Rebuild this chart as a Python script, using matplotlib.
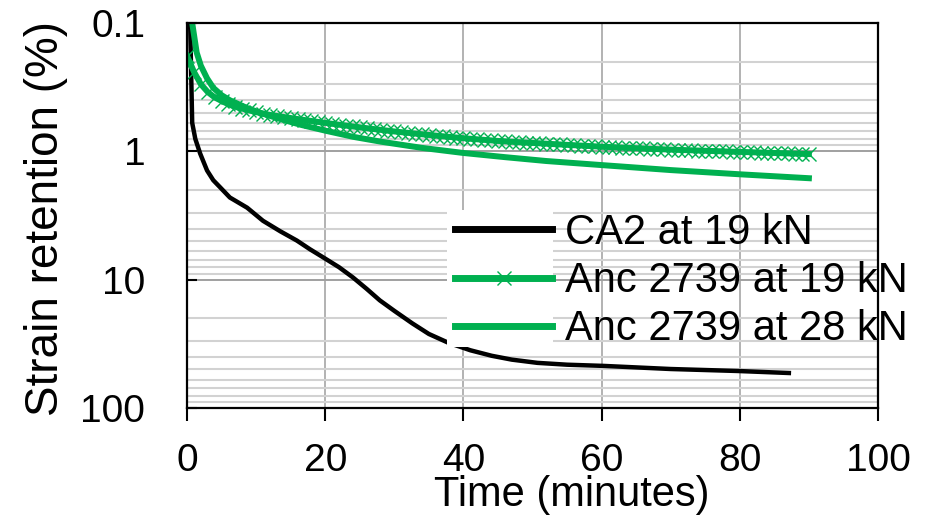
import numpy as np
import matplotlib
matplotlib.use("Agg")
import matplotlib.pyplot as plt
from matplotlib.ticker import LogLocator, FixedLocator, FixedFormatter, NullFormatter
from matplotlib.patches import Rectangle

plt.rcParams['font.family'] = ['Liberation Sans', 'DejaVu Sans']

# CA2 at 19 kN (black)
ca2_time = [0.45, 0.75, 1.2, 1.9, 2.9, 3.8, 4.8, 6.2, 8.7, 11.0, 13.5, 15.9, 17.8, 19.7,
            22.0, 24.0, 26.0, 27.9, 30.0, 32.6, 35.0, 37.8, 41.0, 44.1, 47.0, 50.7,
            55.0, 60.3, 70.0, 79.7, 87.1]
ca2_strain = [0.1, 0.6, 0.8, 1.04, 1.41, 1.68, 1.91, 2.29, 2.75, 3.48, 4.2, 4.96, 5.8, 6.7,
              8.0, 9.6, 11.8, 14.5, 17.5, 21.9, 26.5, 31.0, 35.5, 39.2, 42.0, 44.5,
              46.0, 47.0, 49.7, 51.5, 53.4]

# Anc 2739 at 19 kN (green with crosses), one reading per minute
anc19_time = list(range(0, 91))
anc19_strain = [0.18, 0.24, 0.30, 0.345, 0.38, 0.405, 0.43, 0.45, 0.465, 0.48,
                0.495, 0.508, 0.52, 0.53, 0.54, 0.55, 0.56, 0.57, 0.58, 0.59,
                0.60, 0.61, 0.62, 0.63, 0.64, 0.65, 0.66, 0.67, 0.68, 0.69,
                0.70, 0.709, 0.718, 0.727, 0.736, 0.745, 0.754, 0.763, 0.772, 0.781,
                0.79, 0.798, 0.806, 0.814, 0.822, 0.83, 0.836, 0.842, 0.848, 0.854,
                0.86, 0.866, 0.872, 0.878, 0.884, 0.89, 0.896, 0.902, 0.908, 0.914,
                0.92, 0.925, 0.93, 0.935, 0.94, 0.945, 0.95, 0.955, 0.96, 0.965,
                0.97, 0.974, 0.978, 0.982, 0.986, 0.99, 0.994, 0.998, 1.002, 1.006,
                1.01, 1.014, 1.018, 1.022, 1.026, 1.03, 1.034, 1.038, 1.042, 1.046,
                1.05]

# Anc 2739 at 28 kN (green solid)
anc28_time = [0.75, 1.4, 2.0, 2.9, 3.8, 5.0, 6.2, 7.5, 8.7, 11.0, 13.5, 16.4, 20.0, 24.0,
              28.0, 34.0, 40.0, 46.0, 52.0, 60.0, 70.0, 80.0, 90.0]
anc28_strain = [0.1, 0.17, 0.215, 0.27, 0.32, 0.365, 0.40, 0.43, 0.46, 0.51, 0.56, 0.62,
                0.69, 0.77, 0.84, 0.94, 1.03, 1.11, 1.19, 1.28, 1.40, 1.51, 1.62]

labels = ["CA2 at 19 kN", "Anc 2739 at 19 kN", "Anc 2739 at 28 kN"]
x_ticks = [0, 20, 40, 60, 80, 100]
y_ticks = [0.1, 1, 10, 100]
y_ticklabels = ["0.1", "1", "10", "100"]

green = "#00B050"

fig = plt.figure(figsize=(9.45, 5.18), dpi=100)
ax = fig.add_axes([0.1979, 0.2124, 0.7312, 0.7432])

l1, = ax.plot(ca2_time, ca2_strain, color="black", lw=3.2, zorder=3)
l3, = ax.plot(anc28_time, anc28_strain, color=green, lw=4.3, zorder=3)
l2, = ax.plot(anc19_time, anc19_strain, color=green, lw=4.3, marker="x",
              markersize=10.5, markeredgewidth=1.0, zorder=3)

ax.set_yscale("log")
ax.set_xlim(0, 100)
ax.set_ylim(100, 0.1)

ax.xaxis.set_major_locator(FixedLocator(x_ticks))
ax.yaxis.set_major_locator(FixedLocator(y_ticks))
ax.yaxis.set_major_formatter(FixedFormatter(y_ticklabels))
ax.yaxis.set_minor_locator(LogLocator(base=10, subs=np.arange(2, 10)))
ax.yaxis.set_minor_formatter(NullFormatter())

ax.tick_params(axis="x", direction="out", length=9, width=1.5, labelsize=28, pad=16)
ax.tick_params(axis="y", which="major", direction="in", length=7, width=1.5,
               labelsize=28, pad=30)
ax.tick_params(axis="y", which="minor", length=0)

ax.grid(True, which="major", axis="x", color="#a6a6a6", lw=1.2)
ax.grid(True, which="major", axis="y", color="#a0a0a0", lw=1.4)
ax.grid(True, which="minor", axis="y", color="#d2d2d2", lw=1.5)
ax.set_axisbelow(True)

for s in ax.spines.values():
    s.set_color("black")
    s.set_linewidth(1.6)
    s.set_zorder(6)

ax.set_xlabel("Time (minutes)", fontsize=30)
ax.xaxis.set_label_coords(0.557, -0.175)
ax.set_ylabel("Strain retention (%)", fontsize=33)
ax.yaxis.set_label_coords(-0.172, 0.491)

# white patch behind legend handles
ax.add_patch(Rectangle((0.376, 0.158), 0.154, 0.356, transform=ax.transAxes,
                       facecolor="white", edgecolor="none", zorder=4))

leg = ax.legend([l1, l2, l3], labels, loc="upper left", bbox_to_anchor=(0.388, 0.507),
                frameon=False, fontsize=30, handlelength=2.33, handletextpad=0.3,
                labelspacing=0.2, borderpad=0, borderaxespad=0, numpoints=1)
leg.set_zorder(7)
for h in leg.legend_handles:
    h.set_linewidth(5)

fig.savefig("out.png", dpi=100)
